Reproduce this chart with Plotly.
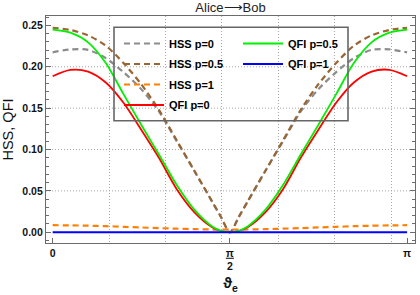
import plotly.graph_objects as go

# ---- data ----
THETA = [0.000, 0.157, 0.314, 0.471, 0.628, 0.785, 0.942, 1.100, 1.257, 1.414, 1.492,
         1.571, 1.650, 1.728, 1.885, 2.042, 2.199, 2.356, 2.513, 2.670, 2.827, 2.985, 3.142]

HSS_P0 = [0.2175, 0.2210, 0.2205, 0.2105, 0.1935, 0.1730, 0.1460, 0.1100, 0.0740, 0.0370, 0.0185,
          0.0000, 0.0185, 0.0370, 0.0740, 0.1100, 0.1460, 0.1730, 0.1935, 0.2105, 0.2205, 0.2210, 0.2175]
HSS_P05 = [0.2472, 0.2445, 0.2380, 0.2255, 0.2045, 0.1790, 0.1480, 0.1110, 0.0740, 0.0370, 0.0185,
           0.0000, 0.0185, 0.0370, 0.0740, 0.1110, 0.1480, 0.1790, 0.2045, 0.2255, 0.2380, 0.2445, 0.2472]
HSS_P1 = [0.0085, 0.0083, 0.0079, 0.0073, 0.0066, 0.0058, 0.0050, 0.0043, 0.0037, 0.0033, 0.0032,
          0.0032, 0.0032, 0.0033, 0.0037, 0.0043, 0.0050, 0.0058, 0.0066, 0.0073, 0.0079, 0.0083, 0.0085]
QFI_P0 = [0.1886, 0.1963, 0.1942, 0.1810, 0.1565, 0.1240, 0.0900, 0.0520, 0.0240, 0.0060, 0.0015,
          0.0000, 0.0015, 0.0060, 0.0240, 0.0520, 0.0900, 0.1240, 0.1565, 0.1810, 0.1942, 0.1963, 0.1886]
QFI_P05 = [0.2448, 0.2412, 0.2295, 0.2045, 0.1670, 0.1300, 0.0940, 0.0570, 0.0270, 0.0070, 0.0018,
           0.0000, 0.0018, 0.0070, 0.0270, 0.0570, 0.0940, 0.1300, 0.1670, 0.2045, 0.2295, 0.2412, 0.2448]
QFI_P1 = [0.0] * len(THETA)

SERIES_NAMES = ["HSS p=0", "HSS p=0.5", "HSS p=1", "QFI p=0", "QFI p=0.5", "QFI p=1"]

X_TICKVALS = [0.0, 1.5707963, 3.1415927]
X_TICKTEXT = ["0", "<u>π</u><br>2", "π"]
X_GRID = [0.5, 1.0, 1.5, 2.0, 2.5, 3.0]
Y_TICKVALS = [0.00, 0.05, 0.10, 0.15, 0.20, 0.25]
Y_TICKTEXT = ["0.00", "0.05", "0.10", "0.15", "0.20", "0.25"]
Y_GRID = [0.05, 0.10, 0.15, 0.20]

# ---- styles ----
styles = [
    dict(color="#8c8c8c", width=2.2, dash="6px,4px", legend="legend"),
    dict(color="#996633", width=2.2, dash="6px,4px", legend="legend"),
    dict(color="#ff8000", width=2.2, dash="6px,4px", legend="legend"),
    dict(color="#ff0000", width=1.8, dash="solid", legend="legend"),
    dict(color="#00f000", width=1.8, dash="solid", legend="legend2"),
    dict(color="#0000ff", width=1.8, dash="solid", legend="legend2"),
]
series = [HSS_P0, HSS_P05, HSS_P1, QFI_P0, QFI_P05, QFI_P1]

fig = go.Figure()
for name, ys, st in zip(SERIES_NAMES, series, styles):
    fig.add_trace(go.Scatter(
        x=THETA, y=ys, mode="lines", name=name,
        line=dict(color=st["color"], width=st["width"], dash=st["dash"],
                  shape="spline", smoothing=0.8),
        legend=st["legend"], legendgroup=name, hoverinfo="skip",
    ))

FRAME = "#6b6b6b"
FONT = "Liberation Sans"
L, R, T, B = 46, 5, 16, 52
PW, PH = 420 - L - R, 295 - T - B

def px_to_paper_x(px):
    return (px - L) / PW

def py_to_paper_y(py):
    return (295 - B - py) / PH

# y gridlines (dotted)
for gv in Y_GRID:
    fig.add_shape(type="line", xref="paper", yref="y", x0=0, x1=1, y0=gv, y1=gv,
                  line=dict(color="#a8a8a8", width=1, dash="1px,2px"), layer="below")

# legend frame
fig.add_shape(type="rect", xref="paper", yref="paper",
              x0=px_to_paper_x(114), x1=px_to_paper_x(348),
              y0=py_to_paper_y(120.7), y1=py_to_paper_y(27.3),
              line=dict(color="#666666", width=1.6), fillcolor="rgba(0,0,0,0)")

legend_font = dict(family=FONT, size=11, color="black", weight="bold")
fig.update_layout(
    width=420, height=295,
    margin=dict(l=L, r=R, t=T, b=B, autoexpand=False),
    paper_bgcolor="white", plot_bgcolor="white",
    title=dict(text="Alice⟶Bob", x=0.5, xref="paper", xanchor="center",
               y=1 - 7.7 / 295, yref="container", yanchor="middle",
               font=dict(family=FONT, size=13, color="#222222")),
    legend=dict(x=px_to_paper_x(119), y=py_to_paper_y(29), xanchor="left", yanchor="top",
                bgcolor="rgba(0,0,0,0)", borderwidth=0, font=legend_font,
                traceorder="grouped", tracegroupgap=1.5, itemwidth=40),
    legend2=dict(x=px_to_paper_x(238), y=py_to_paper_y(29), xanchor="left", yanchor="top",
                 bgcolor="rgba(0,0,0,0)", borderwidth=0, font=legend_font,
                 traceorder="grouped", tracegroupgap=1.5, itemwidth=40),
    xaxis=dict(range=[-0.059, 3.212], tickmode="array", tickvals=X_TICKVALS, ticktext=X_TICKTEXT,
               ticks="inside", ticklen=5, tickwidth=1, tickcolor=FRAME,
               showline=True, linecolor=FRAME, linewidth=1.3, mirror=True,
               showgrid=False, zeroline=False, automargin=False,
               tickfont=dict(family=FONT, size=10.5, color="#111111", weight="bold"),
               minor=dict(tickmode="array", tickvals=X_GRID, ticks="", showgrid=True,
                          gridcolor="#a8a8a8", gridwidth=1, griddash="1px,2px"),
               title=dict(text="ϑ<sub>e</sub>", standoff=6,
                          font=dict(family=FONT, size=15, color="#111111", weight="bold"))),
    yaxis=dict(range=[-0.013, 0.2614], tickmode="array", tickvals=Y_TICKVALS, ticktext=Y_TICKTEXT,
               ticks="inside", ticklen=5, tickwidth=1, tickcolor=FRAME,
               showline=True, linecolor=FRAME, linewidth=1.3, mirror="allticks",
               showgrid=False, zeroline=False, automargin=False,
               tickfont=dict(family=FONT, size=10.5, color="#111111", weight="bold"),
               minor=dict(dtick=0.01, tick0=0, ticks="inside", ticklen=3, tickwidth=1,
                          tickcolor=FRAME, showgrid=False),
               title=dict(text="HSS, QFI", standoff=5,
                          font=dict(family=FONT, size=14.5, color="#111111"))),
    showlegend=True,
    hovermode=False,
)

fig.write_html("out.html", config={"displayModeBar": False},
               post_script="document.body.style.margin='0px';")
